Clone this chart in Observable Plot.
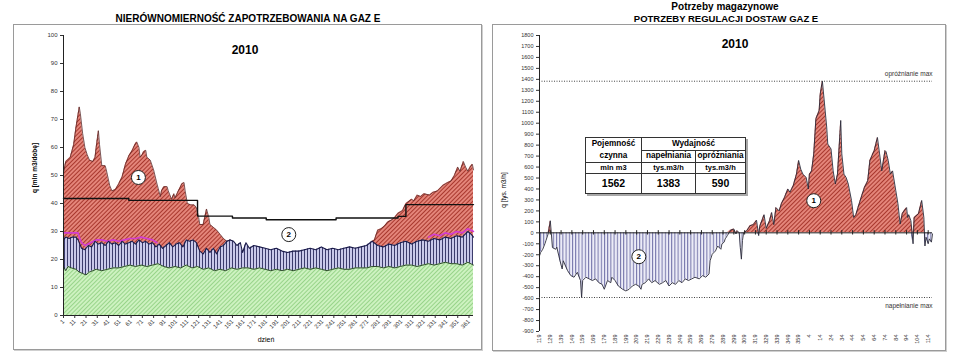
<!DOCTYPE html>
<html><head><meta charset="utf-8">
<script src="https://cdn.jsdelivr.net/npm/d3@7"></script>
<script src="https://cdn.jsdelivr.net/npm/@observablehq/plot@0.6"></script>
<style>
body{margin:0;background:#fff;}
#root{position:relative;width:960px;height:358px;overflow:hidden;font-family:"Liberation Sans",Arial,sans-serif;color:#000;background:#fff;}
.box{position:absolute;border:1px solid #9a9a9a;box-shadow:1px 1px 0 #cfcfcf;box-sizing:border-box;}
.t{position:absolute;white-space:nowrap;transform:translate(-50%,-50%);line-height:1;}
.rot{transform:translate(-50%,-50%) rotate(-90deg);}
table.info{position:absolute;left:585px;top:137px;width:161px;height:56px;border-collapse:collapse;border:1.5px solid #222;box-shadow:2px 2px 0 #a8a8a8;background:#fff;font-weight:bold;font-size:8.2px;text-align:center;}
table.info td{border:1px solid #333;padding:0;line-height:1;}
table.info td.val{font-size:10.5px;}
table.info td.unit{font-size:7.5px;}
</style></head>
<body>
<svg width="0" height="0" style="position:absolute">
<defs>
<pattern id="redHatch" width="3" height="3" patternUnits="userSpaceOnUse" patternTransform="rotate(45)">
<rect width="3" height="3" fill="#e4857a"/><rect width="1" height="3" fill="#a8382e"/>
</pattern>
<pattern id="greenHatch" width="3" height="3" patternUnits="userSpaceOnUse" patternTransform="rotate(45)">
<rect width="3" height="3" fill="#cdf2c0"/><rect width="1" height="3" fill="#98d48a"/>
</pattern>
<pattern id="blueStripe" width="3" height="3" patternUnits="userSpaceOnUse">
<rect width="3" height="3" fill="#c9c9ea"/><rect width="1" height="3" fill="#3c3c6c"/>
</pattern>
<pattern id="blueStripeLight" width="3.2" height="3" patternUnits="userSpaceOnUse">
<rect width="3.2" height="3" fill="#ececf7"/><rect width="1" height="3" fill="#7272a8"/>
</pattern>
</defs>
</svg>
<div id="root">
  <div class="box" style="left:13px;top:24px;width:469px;height:326px"></div>
  <div class="box" style="left:492px;top:24px;width:454px;height:327px"></div>
  <div class="t" style="left:248px;top:19px;font-size:10px;font-weight:bold">NIERÓWNOMIERNOŚĆ ZAPOTRZEBOWANIA NA GAZ E</div>
  <div class="t" style="left:245px;top:50px;font-size:12px;font-weight:bold">2010</div>
  <div class="t rot" style="left:35px;top:168px;font-size:6.5px;font-weight:bold">q [mln m3/dobę]</div>
  <div class="t" style="left:266px;top:339px;font-size:7px">dzień</div>
  <div class="t" style="left:725px;top:7px;font-size:10px;font-weight:bold">Potrzeby magazynowe</div>
  <div class="t" style="left:726px;top:19px;font-size:9.5px;font-weight:bold">POTRZEBY REGULACJI DOSTAW GAZ E</div>
  <div class="t" style="left:735px;top:44px;font-size:12px;font-weight:bold">2010</div>
  <div class="t rot" style="left:504px;top:190px;font-size:6.5px">q [tys. m3/h]</div>
</div>
<script>
// ---------- LEFT CHART DATA (day of year, mln m3/doba) ----------
const leftYTicks = [0,10,20,30,40,50,60,70,80,90,100];
const leftXTicks = [1,11,21,31,41,51,61,71,81,91,101,111,121,131,141,151,161,171,181,191,201,211,221,231,241,251,261,271,281,291,301,311,321,331,341,351,361];

const greenTop = [[1,17.5],[3,16],[5,17.5],[8,17],[12,16.5],[15,15.5],[18,15],[21,14.5],[24,15.5],[27,16],[30,16.5],[35,16],[40,16.5],[45,17],[50,17],[55,17.5],[60,18],[65,17.5],[70,18],[75,17.5],[80,18],[85,18.5],[90,17.5],[95,17],[100,17.5],[105,17],[110,18],[115,17],[120,17.5],[125,16.5],[130,17],[135,16],[140,16.5],[145,16],[150,17],[155,16.5],[160,17],[165,17],[170,16.5],[175,17],[180,16.5],[185,16],[190,16.5],[195,16],[200,16.5],[205,16],[210,16.5],[215,17],[220,16.5],[225,17],[230,16.5],[235,16],[240,16.5],[245,17],[250,16.5],[255,16.5],[260,17],[265,17],[270,17],[275,17.5],[280,17.5],[285,17],[290,17.5],[295,17],[300,17.5],[305,18],[310,18],[315,17.5],[320,18],[325,18.5],[330,18],[335,18.5],[340,19],[345,18.5],[350,18.5],[355,18],[360,19],[365,18]];

const blueTop = [[1,27],[3,28],[6,27.5],[9,28],[12,28],[14,27],[17,24],[20,23.5],[23,25],[26,24.5],[29,26.5],[32,25.5],[35,26],[38,25],[41,26.5],[44,25.5],[47,26],[50,25],[53,26.5],[56,25.5],[59,26],[62,26.5],[65,25.5],[68,27],[71,26],[74,26.5],[77,25.5],[80,26],[83,24.5],[86,25.5],[89,24],[92,25],[95,26],[98,24.5],[101,25.5],[104,26],[107,24.5],[110,27],[113,26.5],[116,27],[119,26],[122,23],[125,22],[128,24],[131,22.5],[134,24],[137,22],[140,24.5],[143,25],[146,26.5],[149,27],[152,26.5],[155,25],[158,26],[160,22.5],[163,26],[166,24],[170,25],[175,24.5],[180,24],[185,23.5],[190,24],[195,23],[200,22.5],[205,23],[210,23],[215,23.5],[220,24],[225,23.5],[230,24.5],[235,23.5],[240,24],[245,23.5],[250,24],[255,24.5],[260,24],[265,24.5],[270,25],[275,26.5],[280,25],[285,24.5],[290,25.5],[295,25],[300,26],[305,26.5],[310,25.5],[315,26.5],[320,27],[325,26.5],[330,27.5],[335,27],[340,28],[345,27.5],[350,28.5],[355,28],[360,30],[363,29],[365,28]];

const demandWinterStart = [[1,51],[3,55],[7,56.5],[10,61],[12,67],[15,74.5],[16,72],[18,65],[20,60],[22,57.5],[24,55.5],[27,55],[29,56.5],[30,60],[32,66],[33,61],[35,53.5],[38,53.5],[39,52],[42,46.5],[44,44.5],[47,45],[50,47],[53,49.5],[56,54],[59,57],[62,59],[65,61.5],[66,62],[68,60],[69,56.5],[71,57.5],[72,58.5],[74,59],[75,56.5],[78,55.5],[81,52],[84,47],[87,42.5],[88,44.5],[90,46],[93,46],[94,44.5],[97,41.5],[99,43.5],[100,42],[103,44.5],[106,47],[108,47.5],[109,44.5],[111,40],[114,39.5],[117,39.5],[119,38.5],[121,35],[122,32.5],[125,32.5],[128,38],[130,35],[131,32.5],[134,31.5],[137,30.5],[140,29],[143,27.5],[146,26.5],[149,27]];

const demandWinterEnd = [[275,26.5],[277,27],[280,30.5],[283,31],[286,32],[289,33.5],[292,34],[295,35],[298,36.5],[302,37.5],[305,40],[310,41.5],[312,41],[315,43],[318,42.5],[321,43.5],[326,43],[329,44],[333,44.5],[338,46.5],[342,47.5],[345,48],[348,50],[351,53],[353,51.5],[356,55],[358,53],[360,51.5],[362,53],[364,54],[365,52]];

const magentaStart = [[1,29.5],[8,29.5],[14,29.5],[15,28],[17,26],[20,25],[25,26],[30,27],[35,27],[40,26.5],[45,27],[50,26.5],[55,27],[60,27.5],[65,27.5],[70,28],[75,27.5],[80,27],[84,26]];
const magentaEnd = [[325,28],[330,29],[335,28.5],[340,29.5],[345,29],[350,30],[355,29.5],[360,31],[365,30]];

const stepDays = [1,59,120,151,181,243,298,305,365];
const stepValues = [41.8,41.1,35.5,34.8,34.2,34.8,35.4,39.6,39.6];

const leftLabels = [[67.5,49.3,"1"],[201,28.9,"2"]];

// ---------- RIGHT CHART DATA (position in gas year, tys. m3/h) ----------
const rightYTicks = [-900,-800,-700,-600,-500,-400,-300,-200,-100,0,100,200,300,400,500,600,700,800,900,1000,1100,1200,1300,1400,1500,1600,1700,1800];
const rightTickPos = [0,10,20,30,40,50,60,70,80,90,100,110,120,130,140,150,160,170,180,190,200,210,220,230,240,250,260,270,280,290,300,310,320,330,340,350,360];
const rightTickLabels = ["119","129","139","149","159","169","179","189","199","209","219","229","239","249","259","269","279","289","299","309","319","329","339","349","359","4","14","24","34","44","54","64","74","84","94","104","114"];

const storage = [[0,-210],[1,-180],[3,-150],[5,-100],[6,-70],[8,-10],[10,110],[11,-10],[12,-135],[15,-150],[16,-130],[19,-255],[21,-330],[22,-255],[26,-345],[29,-390],[32,-405],[35,-360],[38,-435],[39,-590],[40,-435],[43,-405],[46,-420],[49,-435],[52,-420],[55,-455],[58,-470],[60,-515],[63,-435],[66,-455],[67,-405],[70,-435],[73,-485],[77,-515],[80,-530],[83,-515],[86,-485],[89,-470],[92,-485],[94,-515],[95,-470],[98,-455],[101,-420],[104,-455],[107,-435],[111,-470],[114,-455],[117,-435],[120,-485],[123,-455],[126,-470],[129,-435],[132,-455],[135,-420],[138,-435],[141,-420],[144,-405],[148,-420],[151,-390],[154,-405],[157,-375],[158,-255],[160,-195],[163,-165],[165,-120],[168,-150],[169,-100],[171,-85],[172,-55],[174,-25],[177,25],[180,35],[182,-10],[183,20],[185,0],[186,-135],[187,-240],[188,-70],[189,0],[192,20],[195,65],[198,75],[201,115],[203,-25],[204,60],[208,165],[210,40],[213,110],[215,185],[217,75],[219,230],[222,200],[224,265],[227,325],[230,400],[232,370],[235,430],[238,535],[240,660],[242,580],[244,535],[247,505],[249,400],[250,535],[252,565],[254,720],[256,1040],[259,1115],[260,1265],[262,1385],[264,1175],[266,965],[267,810],[270,765],[272,565],[274,445],[276,535],[279,1025],[280,720],[282,535],[284,505],[286,445],[289,295],[291,140],[293,165],[295,230],[298,325],[301,415],[304,475],[306,660],[308,705],[310,750],[313,870],[315,720],[317,565],[320,750],[321,740],[323,660],[325,535],[327,565],[330,385],[332,265],[334,80],[336,175],[338,205],[340,230],[341,140],[342,165],[344,110],[346,-100],[347,140],[351,175],[354,295],[356,140],[357,-120],[358,-40],[360,-100],[361,-55],[363,-85],[364,-10]];

const tableHead = ["Pojemność","czynna","Wydajność","napełniania","opróżniania"];
const tableUnits = ["mln m3","tys.m3/h","tys.m3/h"];
const tableValues = [1562,1383,590];
const limitLabels = ["opróżnianie max","napełnianie max"];

const rightLabels = [[92,-218,"2"],[254,293,"1"]];

// ---------- build ----------
const toObj = a => a.map(([x,y]) => ({x,y}));
const font = '"Liberation Sans", Arial, sans-serif';
const root = document.getElementById("root");

const stepData = stepDays.map((d,i) => ({x:d, y:stepValues[i]}));
const lLab = leftLabels.map(([x,y,t]) => ({x,y,t}));

const left = Plot.plot({
  width:469, height:326, marginLeft:50, marginRight:9, marginTop:11, marginBottom:35,
  x:{domain:[1,365]}, y:{domain:[0,100]},
  style:{position:"absolute", left:"13px", top:"24px", background:"transparent", fontFamily:font, overflow:"visible", color:"#333"},
  marks:[
    Plot.areaY(toObj(demandWinterStart), {x:"x", y:"y", fill:"url(#redHatch)"}),
    Plot.areaY(toObj(demandWinterEnd), {x:"x", y:"y", fill:"url(#redHatch)"}),
    Plot.areaY(toObj(blueTop), {x:"x", y:"y", fill:"url(#blueStripe)"}),
    Plot.areaY(toObj(greenTop), {x:"x", y:"y", fill:"url(#greenHatch)"}),
    Plot.line(toObj(demandWinterStart), {x:"x", y:"y", stroke:"#5a2a2a", strokeWidth:0.8}),
    Plot.line(toObj(demandWinterEnd), {x:"x", y:"y", stroke:"#5a2a2a", strokeWidth:0.8}),
    Plot.line(toObj(magentaStart), {x:"x", y:"y", stroke:"#d23cd2", strokeWidth:1.6}),
    Plot.line(toObj(magentaEnd), {x:"x", y:"y", stroke:"#d23cd2", strokeWidth:1.6}),
    Plot.line(toObj(blueTop), {x:"x", y:"y", stroke:"#1c1c4a", strokeWidth:1.1}),
    Plot.line(toObj(greenTop), {x:"x", y:"y", stroke:"#1e3a1e", strokeWidth:0.9}),
    Plot.line(stepData, {x:"x", y:"y", curve:"step-after", stroke:"#111", strokeWidth:1.4}),
    Plot.ruleX([1], {stroke:"#222"}),
    Plot.ruleY([0], {stroke:"#222"}),
    Plot.axisY({ticks:leftYTicks, tickSize:3, tickPadding:3, fontSize:6, label:null, tickFormat:d=>String(d)}),
    Plot.axisX({ticks:leftXTicks, tickRotate:-45, tickSize:3, tickPadding:2, fontSize:6, label:null, tickFormat:d=>String(d)}),
    Plot.dot(lLab, {x:"x", y:"y", r:7, fill:"white", stroke:"#222", strokeWidth:1}),
    Plot.text(lLab, {x:"x", y:"y", text:"t", fontSize:8, fontWeight:"bold", fill:"#000"})
  ]
});
root.appendChild(left);

const sData = toObj(storage);
const labelMap = new Map(rightTickPos.map((p,i) => [p, rightTickLabels[i]]));
const rLab = rightLabels.map(([x,y,t]) => ({x,y,t}));
const limits = [{v:tableValues[1], t:limitLabels[0]}, {v:-tableValues[2], t:limitLabels[1]}];

const right = Plot.plot({
  width:454, height:327, marginLeft:47, marginRight:14, marginTop:11, marginBottom:20,
  x:{domain:[0,364]}, y:{domain:[-900,1800]},
  style:{position:"absolute", left:"492px", top:"24px", background:"transparent", fontFamily:font, overflow:"visible", color:"#333"},
  marks:[
    Plot.areaY(sData, {x:"x", y:d=>Math.max(0,d.y), fill:"url(#redHatch)"}),
    Plot.areaY(sData, {x:"x", y:d=>Math.min(0,d.y), fill:"url(#blueStripeLight)"}),
    Plot.line(sData, {x:"x", y:"y", stroke:"#2a2a3a", strokeWidth:0.9}),
    Plot.ruleY([0], {stroke:"#222"}),
    Plot.ruleX([0], {stroke:"#222"}),
    Plot.ruleY(limits, {y:"v", stroke:"#444", strokeDasharray:"1,1.5"}),
    Plot.text(limits.filter(d=>d.v>0), {x:364, y:"v", text:"t", textAnchor:"end", dy:-7, fontSize:6.5, fill:"#333"}),
    Plot.text(limits.filter(d=>d.v<0), {x:364, y:"v", text:"t", textAnchor:"end", dy:8, fontSize:6.5, fill:"#333"}),
    Plot.ruleX(rightTickPos, {x:d=>d, y1:-20, y2:20, stroke:"#222"}),
    Plot.axisY({ticks:rightYTicks, tickSize:3, tickPadding:3, fontSize:5.5, label:null, tickFormat:d=>String(d)}),
    Plot.axisX({ticks:rightTickPos, tickRotate:-90, tickSize:0, tickPadding:3, fontSize:5.5, label:null, tickFormat:d=>labelMap.get(d)}),
    Plot.dot(rLab, {x:"x", y:"y", r:7, fill:"white", stroke:"#222", strokeWidth:1}),
    Plot.text(rLab, {x:"x", y:"y", text:"t", fontSize:8, fontWeight:"bold", fill:"#000"})
  ]
});
root.appendChild(right);

// info table
const tbl = document.createElement("table");
tbl.className = "info";
tbl.innerHTML =
  `<tr style="height:13px"><td style="width:55px;border-bottom:none">${tableHead[0]}</td><td colspan="2">${tableHead[2]}</td></tr>` +
  `<tr style="height:12px"><td style="border-top:none">${tableHead[1]}</td><td style="width:53px">${tableHead[3]}</td><td>${tableHead[4]}</td></tr>` +
  `<tr style="height:11px">${tableUnits.map(u=>`<td class="unit">${u}</td>`).join("")}</tr>` +
  `<tr style="height:20px">${tableValues.map(v=>`<td class="val">${v}</td>`).join("")}</tr>`;
root.appendChild(tbl);
</script>
</body></html>
